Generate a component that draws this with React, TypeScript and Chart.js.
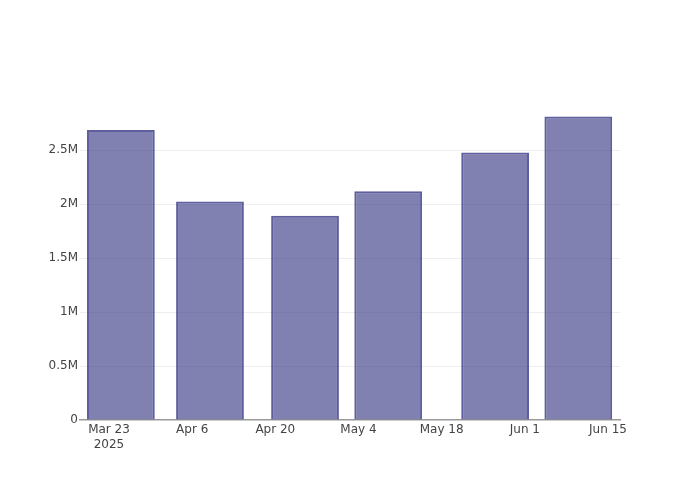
import React, { useEffect, useRef } from "react";
import { Chart, registerables } from "chart.js";

Chart.register(...registerables);

const dates = ["2025-03-25", "2025-04-09", "2025-04-25", "2025-05-09", "2025-05-27", "2025-06-10"];
const values = [2685000, 2023000, 1891000, 2119000, 2477000, 2810000];
const tickDates = ["2025-03-23", "2025-04-06", "2025-04-20", "2025-05-04", "2025-05-18", "2025-06-01", "2025-06-15"];
const yTicks = [0, 500000, 1000000, 1500000, 2000000, 2500000];
const yTickLabels = ["0", "0.5M", "1M", "1.5M", "2M", "2.5M"];
const xRangeDates = ["2025-03-18", "2025-06-17"];
const MONTHS = ["Jan", "Feb", "Mar", "Apr", "May", "Jun", "Jul", "Aug", "Sep", "Oct", "Nov", "Dec"];

const DAY = 86400000;
const toDay = (s: string) => {
  const [y, m, d] = s.split("-").map(Number);
  return Date.UTC(y, m - 1, d) / DAY;
};

export default function App() {
  const ref = useRef<HTMLCanvasElement>(null);
  useEffect(() => {
    if (!ref.current) return;
    const font = { family: "'DejaVu Sans', Verdana, sans-serif", size: 12 };
    const xMin = toDay(xRangeDates[0]) + 0.12;
    const xMax = toDay(xRangeDates[1]) + 0.02;
    const chart = new Chart(ref.current, {
      type: "bar",
      data: {
        datasets: [
          {
            data: dates.map((d, i) => ({ x: toDay(d), y: values[i] })),
            backgroundColor: "rgba(60,60,135,0.65)",
            borderColor: "rgba(55,55,135,0.8)",
            borderWidth: 2,
            barPercentage: 0.815,
            categoryPercentage: 1,
          },
        ],
      },
      options: {
        responsive: false,
        animation: false,
        layout: { padding: { left: 0, right: 80, top: 100, bottom: 0 } },
        plugins: { legend: { display: false }, tooltip: { enabled: false } },
        scales: {
          x: {
            type: "linear",
            offset: false,
            min: xMin,
            max: xMax,
            afterBuildTicks: (axis: any) => {
              axis.ticks = tickDates.map((d) => ({ value: toDay(d) }));
            },
            afterFit: (axis: any) => {
              axis.height = 80;
            },
            grid: { display: false, drawTicks: false, offset: false },
            border: { display: true, color: "#999", width: 1.5 },
            ticks: {
              font,
              color: "#444",
              padding: 3,
              maxRotation: 0,
              autoSkip: false,
              callback: (v: any, i: number) => {
                const dt = new Date(Number(v) * DAY);
                const lbl = `${MONTHS[dt.getUTCMonth()]} ${dt.getUTCDate()}`;
                return i === 0 ? [lbl, String(dt.getUTCFullYear())] : lbl;
              },
            },
          },
          y: {
            min: 0,
            max: 2963000,
            afterBuildTicks: (axis: any) => {
              axis.ticks = yTicks.map((v) => ({ value: v }));
            },
            afterFit: (axis: any) => {
              axis.width = 80;
            },
            grid: {
              drawTicks: false,
              color: (ctx: any) => (ctx.tick && ctx.tick.value === 0 ? "rgba(0,0,0,0)" : "#eeeeee"),
              lineWidth: 1,
            },
            border: { display: false },
            ticks: {
              font,
              color: "#444",
              padding: 2,
              callback: (v: any) => {
                const idx = yTicks.indexOf(Number(v));
                return idx >= 0 ? yTickLabels[idx] : "";
              },
            },
          },
        },
      },
    } as any);
    return () => chart.destroy();
  }, []);
  return (
    <div style={{ position: "fixed", left: 0, top: 0, width: 700, height: 500, background: "#fff" }}>
      <canvas ref={ref} width={700} height={500} style={{ width: 700, height: 500 }} />
    </div>
  );
}
